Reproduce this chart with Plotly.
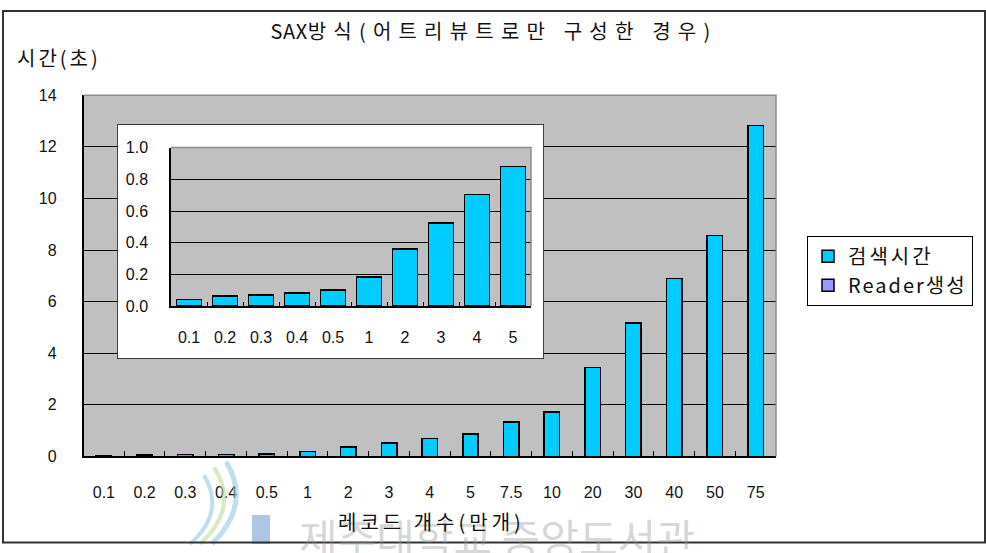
import plotly.graph_objects as go

# ---- data -------------------------------------------------------------
categories = ["0.1", "0.2", "0.3", "0.4", "0.5", "1", "2", "3", "4", "5",
              "7.5", "10", "20", "30", "40", "50", "75"]
search_time = [0.037, 0.059, 0.067, 0.078, 0.098, 0.18, 0.357, 0.52, 0.70, 0.876,
               1.34, 1.72, 3.45, 5.17, 6.89, 8.56, 12.82]
reader_time = [0.004, 0.004, 0.004, 0.004, 0.004, 0.004, 0.004, 0.004, 0.004, 0.004,
               0.004, 0.004, 0.004, 0.004, 0.004, 0.004, 0.004]
inset_count = 10  # the zoomed panel repeats the first ten record counts

main_ticks = [0, 2, 4, 6, 8, 10, 12, 14]
inset_ticks = [0.0, 0.2, 0.4, 0.6, 0.8, 1.0]

title_head = "SAX"
title_tail = "방식(어트리뷰트로만 구성한 경우)"
y_title = "시간(초)"
x_title = "레코드 개수(만개)"
series_names = ["Reader생성", "검색시간"]

# ---- page geometry (pixels -> paper fractions) -----------------------------
W, H = 986, 553


def fx(px):
    return px / W


def fy(py):
    return 1 - py / H


def spaced(text, px):
    """Wrap text in a span with extra letter spacing (wide Korean UI look)."""
    return f'<span style="letter-spacing:{px}px">{text}</span>'


FONT = "Liberation Sans, Noto Sans CJK KR, sans-serif"
KFONT = "Noto Sans CJK KR, sans-serif"
CYAN = "#00CCFF"
LAVENDER = "#9999FF"

fig = go.Figure()

# main chart: Reader at the bottom of each stack, search time above it
fig.add_bar(x=categories, y=reader_time, name=spaced(series_names[0], 2), width=0.38,
            marker=dict(color=LAVENDER, line=dict(color="black", width=1.5)),
            xaxis="x", yaxis="y")
fig.add_bar(x=categories, y=search_time, name=spaced(series_names[1], 3), width=0.38,
            marker=dict(color=CYAN, line=dict(color="black", width=1.5)),
            xaxis="x", yaxis="y")

# empty trace so the white card's subplot exists
fig.add_scatter(x=[None], y=[None], xaxis="x2", yaxis="y2", mode="markers",
                showlegend=False, hoverinfo="skip")

# zoomed panel
fig.add_bar(x=categories[:inset_count], y=reader_time[:inset_count], width=0.69,
            marker=dict(color=LAVENDER, line=dict(color="black", width=1.5)),
            xaxis="x3", yaxis="y3", showlegend=False)
fig.add_bar(x=categories[:inset_count], y=search_time[:inset_count], width=0.69,
            marker=dict(color=CYAN, line=dict(color="black", width=1.5)),
            xaxis="x3", yaxis="y3", showlegend=False)

tickfont = dict(family=FONT, size=16, color="#111")

fig.update_layout(
    width=W, height=H,
    margin=dict(l=0, r=0, t=0, b=0),
    paper_bgcolor="white",
    plot_bgcolor="#C0C0C0",
    barmode="stack",
    showlegend=True,
    title=dict(text=spaced(title_head, 0.5) + spaced(title_tail, 7.2),
               x=fx(494), y=fy(32), xanchor="center", yanchor="middle",
               font=dict(family=KFONT, size=20, color="#111")),
    legend=dict(x=fx(807), y=fy(235), xanchor="left", yanchor="top",
                bgcolor="white", bordercolor="black", borderwidth=1,
                traceorder="reversed", itemwidth=30,
                font=dict(family=KFONT, size=20, color="#111")),
    # main axes
    xaxis=dict(domain=[fx(83.5), fx(776)], anchor="y", type="category",
               showline=True, linecolor="black", linewidth=2,
               ticks="inside", tickson="boundaries", ticklen=5,
               tickcolor="black", tickwidth=1,
               showgrid=False, zeroline=False, tickfont=tickfont,
               ticklabelstandoff=20),
    yaxis=dict(domain=[fy(462.7), fy(90)], anchor="x", range=[0, 14],
               tickvals=main_ticks, showline=True, linecolor="black",
               linewidth=1.5, showgrid=True, gridcolor="black", gridwidth=1,
               zeroline=False, ticks="", tickfont=tickfont,
               ticklabelstandoff=22),
    # white card holding the zoomed panel
    xaxis2=dict(domain=[fx(117), fx(544)], anchor="y2", range=[0, 1],
                visible=False, showgrid=False, zeroline=False),
    yaxis2=dict(domain=[fy(362), fy(120)], anchor="x2", range=[0, 1],
                visible=False, showgrid=False, zeroline=False),
    # zoomed panel axes
    xaxis3=dict(domain=[fx(171), fx(531)], anchor="y3", type="category",
                showline=True, linecolor="black", linewidth=2,
                ticks="inside", tickson="boundaries", ticklen=4,
                tickcolor="black", tickwidth=1,
                showgrid=False, zeroline=False, tickfont=tickfont,
                ticklabelstandoff=16),
    yaxis3=dict(domain=[fy(307.7), fy(144)], anchor="x3", range=[0, 1.0],
                tickvals=inset_ticks, tickformat=".1f", showline=True,
                linecolor="black", linewidth=1.5, showgrid=True,
                gridcolor="black", gridwidth=1, zeroline=False, ticks="",
                tickfont=tickfont, ticklabelstandoff=18),
)

shapes = [
    # white card behind the zoomed panel (drawn inside the card's own subplot)
    dict(type="rect", xref="x2", yref="y2", x0=0, x1=1, y0=0, y1=1,
         fillcolor="white", line=dict(color="black", width=1.5), layer="below"),
    # grey top/right edges of both plot areas
    dict(type="path", xref="x domain", yref="y domain", path="M0,1 L1,1 L1,0",
         line=dict(color="#8c8c8c", width=1.5), layer="above"),
    dict(type="path", xref="x3 domain", yref="y3 domain", path="M0,1 L1,1 L1,0",
         line=dict(color="#8c8c8c", width=1.5), layer="above"),
    # library watermark emblem
    dict(type="rect", xref="paper", yref="paper", x0=fx(252), x1=fx(270),
         y0=fy(553), y1=fy(523), fillcolor="rgba(110,150,205,0.55)",
         line=dict(width=0), layer="above"),
    dict(type="path", xref="paper", yref="paper",
         path=f"M{fx(226)},{fy(468)} Q{fx(252)},{fy(512)} {fx(212)},{fy(553)}",
         line=dict(color="rgba(150,200,230,0.6)", width=5), layer="above"),
    dict(type="path", xref="paper", yref="paper",
         path=f"M{fx(214)},{fy(474)} Q{fx(240)},{fy(515)} {fx(200)},{fy(553)}",
         line=dict(color="rgba(190,220,150,0.6)", width=4), layer="above"),
    dict(type="path", xref="paper", yref="paper",
         path=f"M{fx(204)},{fy(482)} Q{fx(226)},{fy(520)} {fx(190)},{fy(553)}",
         line=dict(color="rgba(130,190,225,0.5)", width=4), layer="above"),
    # outer chart border
    dict(type="rect", xref="paper", yref="paper", x0=fx(3), x1=fx(985),
         y0=fy(551.5), y1=fy(3), line=dict(color="#333", width=2),
         fillcolor="rgba(0,0,0,0)", layer="above"),
]
fig.update_layout(shapes=shapes)

fig.add_annotation(text="제주대학교 중앙도서관", xref="paper", yref="paper",
                   x=fx(497), y=fy(512), xanchor="center", yanchor="top",
                   showarrow=False,
                   font=dict(family=KFONT, size=42, color="rgba(150,150,150,0.4)"))
fig.add_annotation(text=spaced(y_title, 3), xref="paper", yref="paper",
                   x=fx(15), y=fy(51), xanchor="left", yanchor="middle",
                   showarrow=False, font=dict(family=KFONT, size=20, color="#111"))
fig.add_annotation(text=spaced(x_title, 4), xref="paper", yref="paper",
                   x=fx(431), y=fy(530), xanchor="center", yanchor="middle",
                   showarrow=False, font=dict(family=KFONT, size=20, color="#111"))

fig.write_html("out.html")
